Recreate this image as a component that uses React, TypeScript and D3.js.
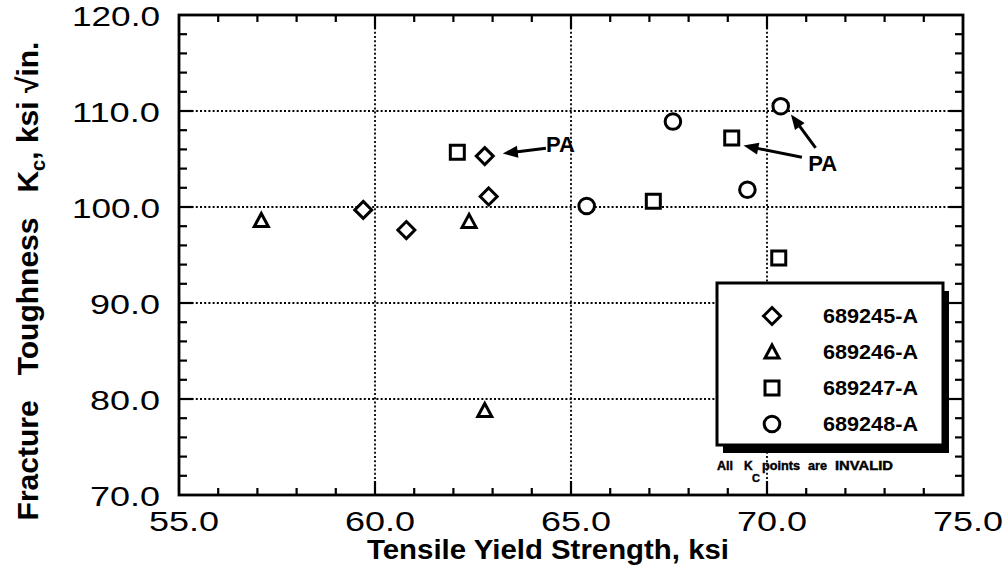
import React from 'react';
import * as d3 from 'd3';

// ---- data ----
const xDomain = [55, 75];
const yDomain = [70, 120];
const xTickValues = [55, 60, 65, 70, 75];
const xTickLabels = ['55.0', '60.0', '65.0', '70.0', '75.0'];
const yTickValues = [70, 80, 90, 100, 110, 120];
const yTickLabels = ['70.0', '80.0', '90.0', '100.0', '110.0', '120.0'];
const xGridValues = [60, 65, 70];
const yGridValues = [80, 90, 100, 110];

const seriesNames = ['689245-A', '689246-A', '689247-A', '689248-A'];
const seriesSymbols = ['diamond', 'triangle', 'square', 'circle'];

const s689245X = [59.7, 60.8, 62.8, 62.9];
const s689245Y = [99.7, 97.6, 105.3, 101.1];
const s689246X = [57.1, 62.4, 62.8];
const s689246Y = [98.6, 98.5, 78.8];
const s689247X = [62.1, 67.1, 69.1, 70.3];
const s689247Y = [105.7, 100.6, 107.2, 94.7];
const s689248X = [65.4, 67.6, 69.5, 70.35];
const s689248Y = [100.1, 108.9, 101.8, 110.5];

// PA annotations: arrows (tail -> tip) and label anchor, in data units
const paArrowTailX = [64.36, 70.89, 71.24];
const paArrowTailY = [106.13, 105.18, 106.16];
const paArrowTipX = [63.26, 69.40, 70.61];
const paArrowTipY = [105.57, 106.40, 109.64];
const paLabelX = [64.36, 71.05];
const paLabelY = [105.7, 103.75];

const xTitle = 'Tensile Yield Strength, ksi';

// ---- layout ----
const W = 1008;
const H = 575;
const plot = { left: 179, right: 963, top: 15, bottom: 495 };
const legendBox = { x: 717, y: 283, w: 226, h: 162 };

const FONT = "'Liberation Sans', Arial, Helvetica, sans-serif";

function symbolPath(kind: string, cx: number, cy: number): string {
  if (kind === 'diamond') {
    const r = 8.5;
    return `M${cx},${cy - r}L${cx + r},${cy}L${cx},${cy + r}L${cx - r},${cy}Z`;
  }
  if (kind === 'triangle') {
    return `M${cx},${cy - 7}L${cx + 7},${cy + 6}L${cx - 7},${cy + 6}Z`;
  }
  if (kind === 'square') {
    const h = 7;
    return `M${cx - h},${cy - h}L${cx + h},${cy - h}L${cx + h},${cy + h}L${cx - h},${cy + h}Z`;
  }
  const p = d3.path();
  p.arc(cx, cy, 7.8, 0, Math.PI * 2);
  p.closePath();
  return p.toString();
}

function Arrow({ x1, y1, x2, y2 }: { x1: number; y1: number; x2: number; y2: number }) {
  const dx = x2 - x1;
  const dy = y2 - y1;
  const len = Math.hypot(dx, dy);
  const ux = dx / len;
  const uy = dy / len;
  const hl = 15;
  const hw = 6;
  const bx = x2 - ux * hl;
  const by = y2 - uy * hl;
  const pts = `${x2},${y2} ${bx - uy * hw},${by + ux * hw} ${bx + uy * hw},${by - ux * hw}`;
  return (
    <g>
      <line x1={x1} y1={y1} x2={bx + ux * 2} y2={by + uy * 2} stroke="#000" strokeWidth={3} />
      <polygon points={pts} fill="#000" />
    </g>
  );
}

export default function App() {
  const x = d3.scaleLinear().domain(xDomain).range([plot.left, plot.right]);
  const y = d3.scaleLinear().domain(yDomain).range([plot.bottom, plot.top]);

  const series = [
    { xs: s689245X, ys: s689245Y },
    { xs: s689246X, ys: s689246Y },
    { xs: s689247X, ys: s689247Y },
    { xs: s689248X, ys: s689248Y },
  ];

  const xMinor = x.ticks(20);
  const yMinor = y.ticks(25);
  const isMajorX = (v: number) => Math.abs(v % 5) < 1e-6;
  const isMajorY = (v: number) => Math.abs(v % 10) < 1e-6;

  const labelWidth = (s: string) => (s.length === 5 ? 88 : 70);

  return (
    <svg
      width={W}
      height={H}
      viewBox={`0 0 ${W} ${H}`}
      style={{ position: 'absolute', left: 0, top: 0, background: '#fff', display: 'block' }}
      fontFamily={FONT}
    >
      <rect x={0} y={0} width={W} height={H} fill="#fff" />

      {/* grid */}
      <g stroke="#000" strokeWidth={1.8} strokeDasharray="2 2.2">
        {xGridValues.map((v) => (
          <line key={'gx' + v} x1={x(v)} x2={x(v)} y1={plot.top} y2={plot.bottom} />
        ))}
        {yGridValues.map((v) => (
          <line key={'gy' + v} x1={plot.left} x2={plot.right} y1={y(v)} y2={y(v)} />
        ))}
      </g>

      {/* ticks (inward on all four sides) */}
      <g stroke="#000" strokeWidth={2.2}>
        {xMinor
          .filter((v) => v > xDomain[0] && v < xDomain[1])
          .map((v) => {
            const len = isMajorX(v) ? 14 : 7;
            return (
              <g key={'tx' + v}>
                <line x1={x(v)} x2={x(v)} y1={plot.bottom} y2={plot.bottom - len} />
                <line x1={x(v)} x2={x(v)} y1={plot.top} y2={plot.top + len} />
              </g>
            );
          })}
        {yMinor
          .filter((v) => v > yDomain[0] && v < yDomain[1])
          .map((v) => {
            const len = isMajorY(v) ? 14 : 8;
            return (
              <g key={'ty' + v}>
                <line x1={plot.left} x2={plot.left + len} y1={y(v)} y2={y(v)} />
                <line x1={plot.right} x2={plot.right - len} y1={y(v)} y2={y(v)} />
              </g>
            );
          })}
      </g>

      {/* frame */}
      <rect
        x={plot.left}
        y={plot.top}
        width={plot.right - plot.left}
        height={plot.bottom - plot.top}
        fill="none"
        stroke="#000"
        strokeWidth={2.8}
      />

      {/* y tick labels */}
      {yTickValues.map((v, i) => (
        <text
          key={'yl' + v}
          x={160}
          y={y(v) + 11}
          textAnchor="end"
          fontSize={27}
          textLength={labelWidth(yTickLabels[i])}
          lengthAdjust="spacingAndGlyphs"
          fill="#000"
        >
          {yTickLabels[i]}
        </text>
      ))}

      {/* x tick labels */}
      {xTickValues.map((v, i) => (
        <text
          key={'xl' + v}
          x={x(v) + 5}
          y={plot.bottom + 36}
          textAnchor="middle"
          fontSize={27}
          textLength={labelWidth(xTickLabels[i])}
          lengthAdjust="spacingAndGlyphs"
          fill="#000"
        >
          {xTickLabels[i]}
        </text>
      ))}

      {/* axis titles */}
      <text
        x={548}
        y={559}
        textAnchor="middle"
        fontSize={27}
        fontWeight="bold"
        textLength={362}
        lengthAdjust="spacingAndGlyphs"
        fill="#000"
      >
        {xTitle}
      </text>
      <text
        transform="translate(38,281) rotate(-90)"
        textAnchor="middle"
        fontSize={30}
        fontWeight="bold"
        fill="#000"
        style={{ whiteSpace: 'pre' }}
      >
        {'Fracture   Toughness   K'}
        <tspan dy={7} fontSize={20}>c</tspan>
        <tspan dy={-7}>{', ksi \u221Ain.'}</tspan>
      </text>

      {/* data points */}
      <g fill="none" stroke="#000" strokeWidth={3}>
        {series.map((s, si) =>
          s.xs.map((xv, i) => (
            <path key={`p${si}-${i}`} d={symbolPath(seriesSymbols[si], x(xv), y(s.ys[i]))} fill="#fff" />
          ))
        )}
      </g>

      {/* PA annotations */}
      {paArrowTailX.map((_, i) => (
        <Arrow
          key={'a' + i}
          x1={x(paArrowTailX[i])}
          y1={y(paArrowTailY[i])}
          x2={x(paArrowTipX[i])}
          y2={y(paArrowTipY[i])}
        />
      ))}
      {paLabelX.map((v, i) => (
        <text key={'pa' + i} x={x(v)} y={y(paLabelY[i])} fontSize={22} fontWeight="bold" fill="#000">
          PA
        </text>
      ))}

      {/* legend */}
      <rect x={legendBox.x + 6} y={legendBox.y + 8} width={legendBox.w} height={legendBox.h} fill="#000" />
      <rect
        x={legendBox.x}
        y={legendBox.y}
        width={legendBox.w}
        height={legendBox.h}
        fill="#fff"
        stroke="#000"
        strokeWidth={3}
      />
      {seriesNames.map((name, i) => {
        const cy = legendBox.y + 33 + i * 36;
        return (
          <g key={'lg' + name}>
            <path
              d={symbolPath(seriesSymbols[i], legendBox.x + 55, cy)}
              fill="none"
              stroke="#000"
              strokeWidth={3}
            />
            <text
              x={legendBox.x + 106}
              y={cy + 7}
              fontSize={20}
              fontWeight="bold"
              textLength={95}
              lengthAdjust="spacingAndGlyphs"
              fill="#000"
            >
              {name}
            </text>
          </g>
        );
      })}

      {/* footnote */}
      <g fontSize={12} fontWeight="bold" fill="#000" stroke="#000" strokeWidth={0.4}>
        <text x={717} y={470} textLength={16} lengthAdjust="spacingAndGlyphs">All</text>
        <text x={744} y={470}>K</text>
        <text x={752} y={482} fontSize={11}>C</text>
        <text x={762} y={470} textLength={38} lengthAdjust="spacingAndGlyphs">points</text>
        <text x={808} y={470} textLength={19} lengthAdjust="spacingAndGlyphs">are</text>
        <text x={835} y={470} textLength={58} lengthAdjust="spacingAndGlyphs">INVALID</text>
      </g>
    </svg>
  );
}
